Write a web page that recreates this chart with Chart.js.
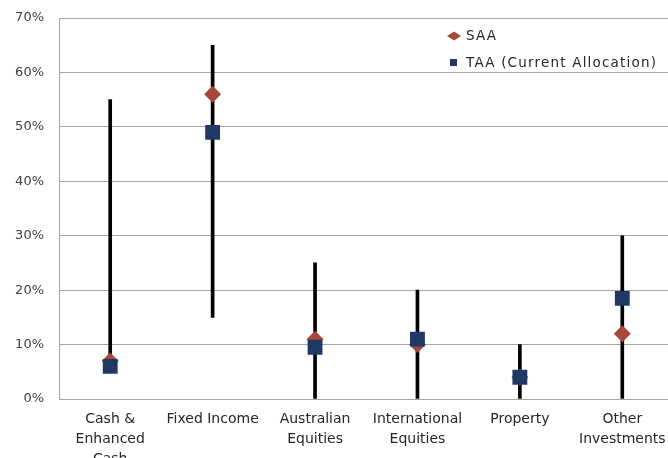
<!DOCTYPE html>
<html><head><meta charset="utf-8">
<script src="https://cdn.jsdelivr.net/npm/chart.js@4/dist/chart.umd.min.js"></script>
<style>html,body{margin:0;padding:0;background:#fff;overflow:hidden;width:668px;height:458px}</style>
</head><body>
<canvas id="c" width="684" height="458" style="width:684px;height:458px;display:block"></canvas>
<script>
const categories = [["Cash &","Enhanced","Cash"],"Fixed Income",["Australian","Equities"],["International","Equities"],"Property",["Other","Investments"]];
const rangeMin = [5, 15, 0, 0, 0, 0];
const rangeMax = [55, 65, 25, 20, 10, 30];
const saa = [7, 56, 11, 10, 4, 12];
const taa = [6, 49, 9.5, 11, 4, 18.5];
const yTicks = [0,10,20,30,40,50,60,70];
const legendLabels = ["SAA", "TAA (Current Allocation)"];

const FONT = "'DejaVu Sans', sans-serif";
const legendPlugin = {
  id:'customLegend',
  afterDraw(chart){
    const ctx = chart.ctx;
    ctx.save();
    ctx.letterSpacing = '1.2px';
    ctx.font = "13.5px " + FONT;
    ctx.textAlign = "left";
    ctx.textBaseline = "middle";
    ctx.fillStyle = "#A5473A";
    ctx.beginPath();
    ctx.moveTo(454,31.5); ctx.lineTo(461,36); ctx.lineTo(454,40.5); ctx.lineTo(447,36); ctx.closePath(); ctx.fill();
    ctx.fillStyle = "#1F3864";
    ctx.fillRect(450,59,7,7);
    ctx.fillStyle = "#262626";
    ctx.fillText(legendLabels[0], 466, 36);
    ctx.fillText(legendLabels[1], 466, 63);
    ctx.letterSpacing = '0px';
    ctx.restore();
  }
};

new Chart(document.getElementById('c'), {
  data: {
    labels: categories,
    datasets: [
      {type:'bar', label:'Range', data: rangeMin.map((m,i)=>[m, rangeMax[i]]), backgroundColor:'#000', barThickness:3, order:3},
      {type:'line', label:legendLabels[0], data: saa, showLine:false, pointStyle:'rectRot', pointRadius:8.5, pointHoverRadius:8.5, backgroundColor:'#A5473A', borderWidth:0, order:2},
      {type:'line', label:legendLabels[1], data: taa, showLine:false, pointStyle:'rect', pointRadius:10.5, pointHoverRadius:10.5, backgroundColor:'#1F3864', borderWidth:0, order:1}
    ]
  },
  options: {
    responsive:false, animation:false, devicePixelRatio:1,
    layout:{padding:{left:0,right:5,top:18,bottom:0}},
    plugins:{legend:{display:false}, tooltip:{enabled:false}},
    scales:{
      x:{
        grid:{display:false, drawTicks:false},
        border:{display:true, color:'#A6A6A6', width:1},
        ticks:{font:{family:FONT,size:14,lineHeight:1.43}, color:'#262626', padding:10, maxRotation:0, autoSkip:false},
        afterFit(s){ s.height = 59; s.paddingLeft = 0; s.paddingRight = 0; }
      },
      y:{
        min:0, max:70,
        afterBuildTicks(s){ s.ticks = yTicks.map(v=>({value:v})); },
        grid:{color:'#A6A6A6', drawTicks:false, lineWidth:1},
        border:{display:true, color:'#A6A6A6', width:1},
        ticks:{font:{family:FONT,size:13}, color:'#404040', padding:15, callback:v=>v+'%'},
        afterFit(s){ s.width = 59; s.paddingTop = 0; s.paddingBottom = 0; }
      }
    }
  },
  plugins:[legendPlugin]
});
</script>
</body></html>
